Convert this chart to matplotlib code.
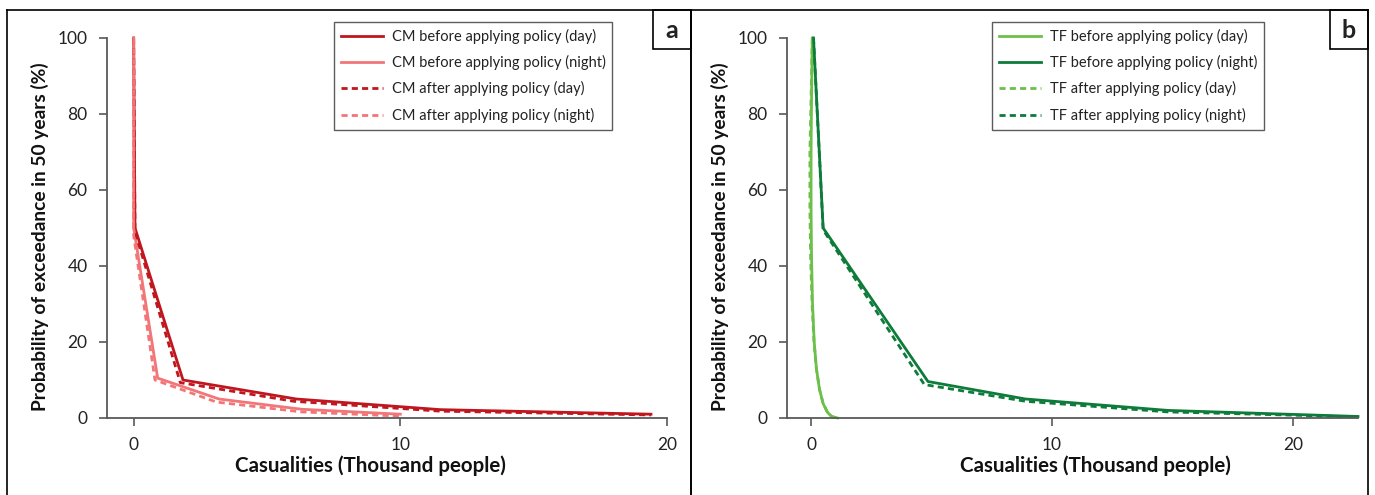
import matplotlib
matplotlib.use("Agg")
import matplotlib.pyplot as plt
from matplotlib.patches import Rectangle

plt.rcParams['font.family'] = ['Lato', 'DejaVu Sans']

# ---- Data: panel a (CM) ----
cm_day_before_x = [0.0, 0.05, 1.85, 6.1, 11.5, 19.4]
cm_day_before_y = [100, 50, 10, 5, 2.2, 1.0]
cm_night_before_x = [0.0, 0.0, 0.9, 3.2, 6.3, 10.0]
cm_night_before_y = [100, 50, 10.5, 5, 2.3, 1.0]
cm_day_after_x = [0.0, 0.05, 1.75, 6.0, 11.5, 19.4]
cm_day_after_y = [100, 49, 9.3, 4.4, 1.8, 0.8]
cm_night_after_x = [0.0, 0.0, 0.8, 3.1, 6.3, 10.0]
cm_night_after_y = [100, 48, 10, 4.2, 1.6, 0.5]

# ---- Data: panel b (TF) ----
tf_day_before_x = [0.05, 0.02, 0.0, 0.0, 0.02, 0.06, 0.13, 0.22, 0.35, 0.5, 0.68, 0.85, 1.1]
tf_day_before_y = [100, 85, 70, 55, 42, 30, 20, 13, 7.5, 3.8, 1.5, 0.4, 0.0]
tf_night_before_x = [0.1, 0.5, 4.85, 8.9, 14.8, 22.7]
tf_night_before_y = [100, 50, 9.6, 5.0, 2.0, 0.4]
tf_day_after_x = [0.05, 0.0, -0.05, -0.05, -0.02, 0.04, 0.12, 0.22, 0.35, 0.5, 0.68, 0.85, 1.1]
tf_day_after_y = [100, 85, 70, 55, 42, 30, 20, 13, 7.5, 3.8, 1.5, 0.4, 0.0]
tf_night_after_x = [0.1, 0.5, 4.7, 8.9, 14.8, 22.7]
tf_night_after_y = [100, 49.5, 8.8, 4.4, 1.6, 0.3]

labels_a = ["CM before applying policy (day)", "CM before applying policy (night)",
            "CM after applying policy (day)", "CM after applying policy (night)"]
labels_b = ["TF before applying policy (day)", "TF before applying policy (night)",
            "TF after applying policy (day)", "TF after applying policy (night)"]

DARK_RED = '#C0161E'
LIGHT_RED = '#F27577'
LIGHT_GREEN = '#6CC04A'
DARK_GREEN = '#0D7B3A'
AX_GRAY = '#595959'

W, H = 1375, 495
fig = plt.figure(figsize=(W / 100, H / 100), dpi=100)


def fx(px):
    return px / W


def fy(py):
    return 1 - py / H


# panel frames
for (x0, x1) in [(7, 691), (691, 1368)]:
    fig.add_artist(plt.Line2D([fx(x0), fx(x0)], [fy(10), fy(500)], color='black', lw=1.2))
    fig.add_artist(plt.Line2D([fx(x1), fx(x1)], [fy(10), fy(500)], color='black', lw=1.2))
    fig.add_artist(plt.Line2D([fx(x0), fx(x1)], [fy(10), fy(10)], color='black', lw=1.2))

for (x0, x1, lab) in [(653, 691, 'a'), (1330, 1368, 'b')]:
    fig.add_artist(Rectangle((fx(x0), fy(49)), fx(x1) - fx(x0), fy(10) - fy(49),
                             fill=False, edgecolor='black', lw=1.2))
    fig.text(fx((x0 + x1) / 2), fy(31), lab, ha='center', va='center',
             fontsize=18, fontweight='bold', color='#222222')


def style_axes(ax, xlim, xticks, xlab_x, xlab_px):
    ax.set_xlim(*xlim)
    ax.set_ylim(0, 100)
    ax.set_xticks(xticks)
    ax.set_yticks([0, 20, 40, 60, 80, 100])
    for s in ['top', 'right']:
        ax.spines[s].set_visible(False)
    for s in ['left', 'bottom']:
        ax.spines[s].set_color(AX_GRAY)
        ax.spines[s].set_linewidth(1.3)
    ax.tick_params(direction='out', length=6, width=1.2, color=AX_GRAY,
                   labelsize=12.5, labelcolor='#222222', pad=8)
    ax.set_ylabel('Probability of exceedance in 50 years (%)', fontsize=13.8,
                  fontweight='bold', color='#111111')
    ax.set_xlabel('Casualities (Thousand people)', fontsize=14.8,
                  fontweight='bold', color='#111111')
    ax.xaxis.set_label_coords(xlab_x, -48 / 380)
    ax.yaxis.set_label_coords(-xlab_px / ax_w_px[ax], (418 - 237) / 380)
    ax.xaxis.label.set_va('center')
    ax.yaxis.label.set_va('center')
    ax.patch.set_alpha(0)


axh = 380 / H
axb = fy(418)
ax1 = fig.add_axes([fx(107), axb, 560 / W, axh])
ax2 = fig.add_axes([fx(787), axb, 571 / W, axh])
ax_w_px = {ax1: 560, ax2: 571}

lw = 2.0
ax1.plot(cm_day_before_x, cm_day_before_y, color=DARK_RED, lw=lw, label=labels_a[0], clip_on=False)
ax1.plot(cm_night_before_x, cm_night_before_y, color=LIGHT_RED, lw=lw, label=labels_a[1], clip_on=False)
ax1.plot(cm_day_after_x, cm_day_after_y, color=DARK_RED, lw=lw, ls=(0, (2.2, 1.5)), label=labels_a[2], clip_on=False)
ax1.plot(cm_night_after_x, cm_night_after_y, color=LIGHT_RED, lw=lw, ls=(0, (2.2, 1.5)), label=labels_a[3], clip_on=False)
style_axes(ax1, (-1, 20), [0, 10, 20], (370 - 107) / 560, 107 - 40)

ax2.plot(tf_day_before_x, tf_day_before_y, color=LIGHT_GREEN, lw=lw, label=labels_b[0], clip_on=False)
ax2.plot(tf_night_before_x, tf_night_before_y, color=DARK_GREEN, lw=lw, label=labels_b[1], clip_on=False)
ax2.plot(tf_day_after_x, tf_day_after_y, color=LIGHT_GREEN, lw=lw, ls=(0, (2.2, 1.5)), label=labels_b[2], clip_on=False)
ax2.plot(tf_night_after_x, tf_night_after_y, color=DARK_GREEN, lw=lw, ls=(0, (2.2, 1.5)), label=labels_b[3], clip_on=False)
style_axes(ax2, (-1, 22.7), [0, 10, 20], (1095 - 787) / 571, 787 - 720)

for ax, right in [(ax1, 612), (ax2, 1264)]:
    leg = ax.legend(loc='upper right', bbox_to_anchor=(fx(right), fy(22)),
                    bbox_transform=fig.transFigure, fontsize=10.5, frameon=True,
                    fancybox=False, edgecolor='#333333', handlelength=2.9,
                    handletextpad=0.6, labelspacing=0.78, borderpad=0.45,
                    borderaxespad=0)
    leg.get_frame().set_linewidth(1.0)
    for t in leg.get_texts():
        t.set_color('#222222')

fig.savefig('out.png', dpi=100)
